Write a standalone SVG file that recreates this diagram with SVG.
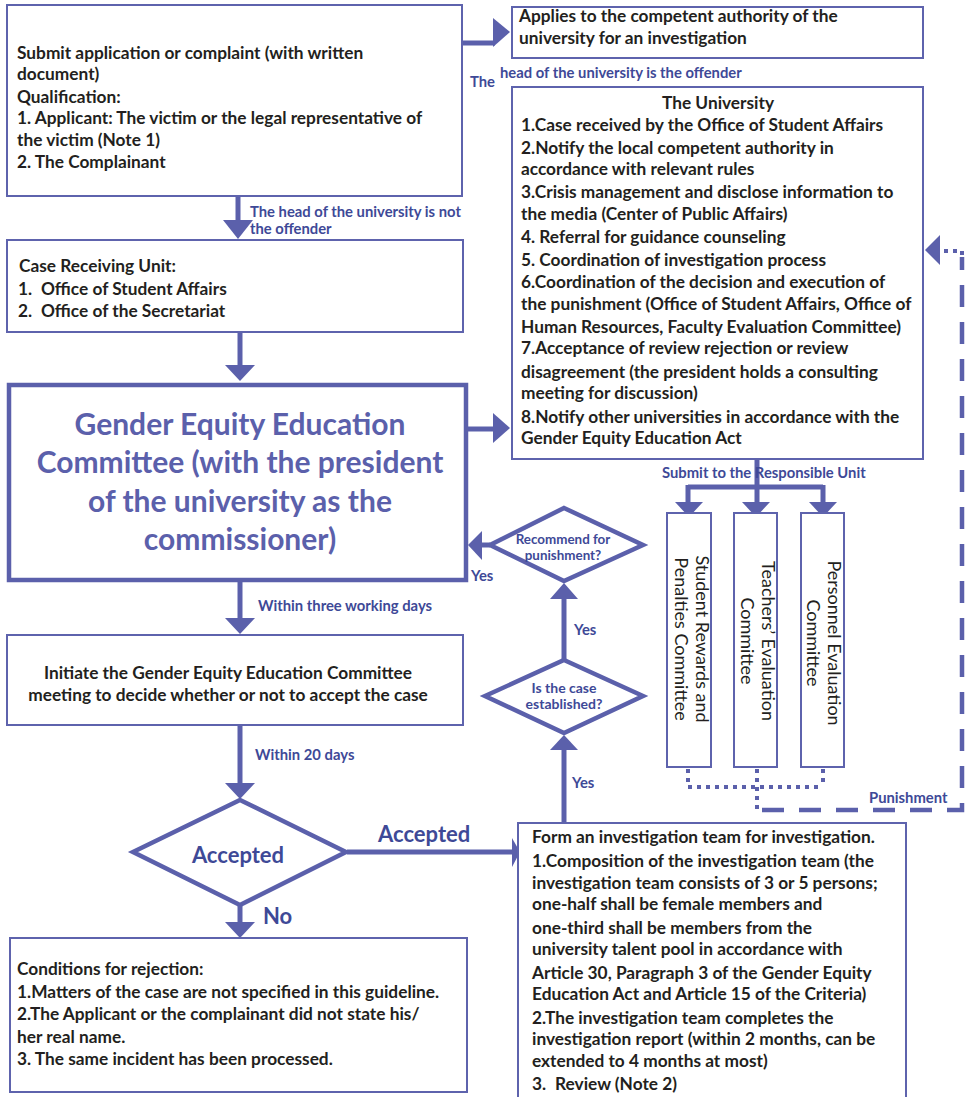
<svg xmlns="http://www.w3.org/2000/svg" width="970" height="1097" viewBox="0 0 970 1097">
<defs>
<style>
.box{fill:#fff;stroke:#5e63ad;stroke-width:2}
.thick{fill:#fff;stroke:#5b60ab;stroke-width:4.5}
.dia{fill:#fff;stroke:#5b60ab;stroke-width:4.5;stroke-linejoin:miter}
.ln{fill:none;stroke:#5b60ab;stroke-width:5}
.ah{fill:#5b60ab}
.dot{fill:none;stroke:#5b60ab;stroke-width:4;stroke-dasharray:4 5}
.dash{fill:none;stroke:#5b60ab;stroke-width:4.5;stroke-dasharray:22 15}
.t{font-family:Lato,"Liberation Sans",sans-serif;font-weight:bold;font-size:17.3px;fill:#231f20}
.lb{font-family:Lato,"Liberation Sans",sans-serif;font-weight:bold;font-size:14.8px;fill:#3e4997}
.big{font-family:Lato,"Liberation Sans",sans-serif;font-weight:bold;font-size:30px;fill:#5b60ab;text-anchor:middle}
.acc{font-family:Lato,"Liberation Sans",sans-serif;font-weight:bold;font-size:22px;fill:#3e4997}
.rot{font-family:Lato,"Liberation Sans",sans-serif;font-size:18px;fill:#231f20;text-anchor:middle}
</style>
</defs>

<g id="connectors">
  <path class="ln" d="M462 43 H495"/>
  <polygon class="ah" points="493,18 510,32 493,47"/>
  <path class="ln" d="M238 196 V222"/>
  <polygon class="ah" points="223,220 253,220 238,239"/>
  <path class="ln" d="M240 332 V367"/>
  <polygon class="ah" points="225,365 255,365 240,381"/>
  <path class="ln" d="M467 429 H495"/>
  <polygon class="ah" points="493,413 510,428 493,443"/>
  <path class="ln" d="M240 582 V620"/>
  <polygon class="ah" points="225,618 255,618 240,634"/>
  <path class="ln" d="M240 725 V785"/>
  <polygon class="ah" points="225,783 255,783 240,799"/>
  <path class="ln" d="M240 905 V924"/>
  <polygon class="ah" points="225,922 255,922 240,938"/>
  <path class="ln" d="M347 852 H514"/>
  <polygon class="ah" points="512,838 520,852 512,867"/>
  <path class="ln" d="M564 823 V748"/>
  <polygon class="ah" points="550,750 578,750 564,735"/>
  <path class="ln" d="M564 660 V597"/>
  <polygon class="ah" points="550,599 578,599 564,583"/>
  <path class="ln" d="M490 545 H480"/>
  <polygon class="ah" points="482,531 468,545 482,560"/>
  <path class="ln" d="M757 459 V487 M688 487 H823 M688 485 V504 M757 487 V504 M823 485 V504"/>
  <polygon class="ah" points="675,502 703,502 689,517"/>
  <polygon class="ah" points="742,502 770,502 756,517"/>
  <polygon class="ah" points="809,502 837,502 823,517"/>
  <path class="dot" d="M688 769 V787 H823 M823 769 V787 M757 769 V810"/>
  <path class="dash" d="M762 810 H962 V257"/>
  <path class="dot" d="M944 251 H962 V258"/>
  <polygon class="ah" points="940,235 925,250 940,265"/>
</g>

<g id="labels">
  <text class="lb" x="250" y="217">The head of the university is not</text>
  <text class="lb" x="250" y="234">the offender</text>
  <text class="lb" x="470" y="87">The</text>
  <text class="lb" x="500" y="78">head of the university is the offender</text>
  <text class="lb" x="662" y="478">Submit to the Responsible Unit</text>
  <text class="lb" x="471" y="581">Yes</text>
  <text class="lb" x="574" y="635">Yes</text>
  <text class="lb" x="572" y="788">Yes</text>
  <text class="lb" x="258" y="611">Within three working days</text>
  <text class="lb" x="255" y="760">Within 20 days</text>
  <text class="lb" x="869" y="803">Punishment</text>
  <text class="acc" x="378" y="842">Accepted</text>
  <text class="acc" x="263" y="924">No</text>
</g>

<g id="submit">
  <rect class="box" x="7" y="5" width="455" height="191"/>
  <text class="t" x="17" y="59">Submit application or complaint (with written</text>
  <text class="t" x="17" y="80">document)</text>
  <text class="t" x="17" y="103">Qualification:</text>
  <text class="t" x="17" y="124">1. Applicant: The victim or the legal representative of</text>
  <text class="t" x="17" y="146">the victim (Note 1)</text>
  <text class="t" x="17" y="168">2. The Complainant</text>
</g>

<g id="applies">
  <rect class="box" x="512" y="7" width="411" height="51"/>
  <text class="t" x="519" y="22">Applies to the competent authority of the</text>
  <text class="t" x="519" y="44">university for an investigation</text>
</g>

<g id="university">
  <rect class="box" x="512" y="87" width="411" height="372"/>
  <text class="t" x="718" y="109" text-anchor="middle">The University</text>
  <text class="t" x="521" y="131">1.Case received by the Office of Student Affairs</text>
  <text class="t" x="521" y="154">2.Notify the local competent authority in</text>
  <text class="t" x="521" y="175">accordance with relevant rules</text>
  <text class="t" x="521" y="198">3.Crisis management and disclose information to</text>
  <text class="t" x="521" y="220">the media (Center of Public Affairs)</text>
  <text class="t" x="521" y="243">4. Referral for guidance counseling</text>
  <text class="t" x="521" y="266">5. Coordination of investigation process</text>
  <text class="t" x="521" y="288">6.Coordination of the decision and execution of</text>
  <text class="t" x="521" y="310">the punishment (Office of Student Affairs, Office of</text>
  <text class="t" x="521" y="333">Human Resources, Faculty Evaluation Committee)</text>
  <text class="t" x="521" y="354">7.Acceptance of review rejection or review</text>
  <text class="t" x="521" y="378">disagreement (the president holds a consulting</text>
  <text class="t" x="521" y="399">meeting for discussion)</text>
  <text class="t" x="521" y="423">8.Notify other universities in accordance with the</text>
  <text class="t" x="521" y="444">Gender Equity Education Act</text>
</g>

<g id="receiving">
  <rect class="box" x="7" y="240" width="456" height="92"/>
  <text class="t" x="19" y="272">Case Receiving Unit:</text>
  <text class="t" x="18" y="295">1.</text>
  <text class="t" x="41" y="295">Office of Student Affairs</text>
  <text class="t" x="18" y="317">2.</text>
  <text class="t" x="41" y="317">Office of the Secretariat</text>
</g>

<g id="geec">
  <rect class="thick" x="9" y="385" width="457" height="195"/>
  <text class="big" x="240" y="435">Gender Equity Education</text>
  <text class="big" x="240" y="473">Committee (with the president</text>
  <text class="big" x="240" y="512">of the university as the</text>
  <text class="big" x="240" y="550">commissioner)</text>
</g>

<g id="initiate">
  <rect class="box" x="7" y="635" width="456" height="90"/>
  <text class="t" x="228" y="679" text-anchor="middle">Initiate the Gender Equity Education Committee</text>
  <text class="t" x="228" y="701" text-anchor="middle">meeting to decide whether or not to accept the case</text>
</g>

<g id="accepted">
  <polygon class="dia" points="240,800 346,852 240,905 133,852"/>
  <text class="acc" x="238" y="863" text-anchor="middle">Accepted</text>
</g>

<g id="rejection">
  <rect class="box" x="10" y="938" width="457" height="154"/>
  <text class="t" x="17" y="975">Conditions for rejection:</text>
  <text class="t" x="17" y="998">1.Matters of the case are not specified in this guideline.</text>
  <text class="t" x="17" y="1020">2.The Applicant or the complainant did not state his/</text>
  <text class="t" x="17" y="1043">her real name.</text>
  <text class="t" x="17" y="1065">3. The same incident has been processed.</text>
</g>

<g id="recommend">
  <polygon class="dia" points="564,508 643,545 564,581 490,545"/>
  <text class="lb" x="563" y="544" text-anchor="middle" style="font-size:13.4px">Recommend for</text>
  <text class="lb" x="563" y="560" text-anchor="middle" style="font-size:13.4px">punishment?</text>
</g>

<g id="established">
  <polygon class="dia" points="564,660 643,696 564,733 485,696"/>
  <text class="lb" x="564" y="693" text-anchor="middle" style="font-size:14px">Is the case</text>
  <text class="lb" x="564" y="709" text-anchor="middle" style="font-size:14px">established?</text>
</g>

<g id="investigation">
  <rect class="box" x="518" y="823" width="388" height="280"/>
  <text class="t" x="532" y="843">Form an investigation team for investigation.</text>
  <text class="t" x="532" y="867">1.Composition of the investigation team (the</text>
  <text class="t" x="532" y="889">investigation team consists of 3 or 5 persons;</text>
  <text class="t" x="532" y="910">one-half shall be female members and</text>
  <text class="t" x="532" y="934">one-third shall be members from the</text>
  <text class="t" x="532" y="955">university talent pool in accordance with</text>
  <text class="t" x="532" y="979">Article 30, Paragraph 3 of the Gender Equity</text>
  <text class="t" x="532" y="1000">Education Act and Article 15 of the Criteria)</text>
  <text class="t" x="532" y="1024">2.The investigation team completes the</text>
  <text class="t" x="532" y="1045">investigation report (within 2 months, can be</text>
  <text class="t" x="532" y="1067">extended to 4 months at most)</text>
  <text class="t" x="532" y="1090">3.<tspan x="555">Review (Note 2)</tspan></text>
</g>

<g id="student-committee">
  <rect class="box" x="667" y="513" width="44" height="254"/>
  <text class="rot" transform="translate(696,639) rotate(90)">Student Rewards and</text>
  <text class="rot" transform="translate(675,639) rotate(90)">Penalties Committee</text>
</g>

<g id="teachers-committee">
  <rect class="box" x="734" y="513" width="43" height="254"/>
  <text class="rot" transform="translate(762,641) rotate(90)">Teachers’ Evaluation</text>
  <text class="rot" transform="translate(741,641) rotate(90)">Committee</text>
</g>

<g id="personnel-committee">
  <rect class="box" x="801" y="513" width="43" height="254"/>
  <text class="rot" transform="translate(828,643) rotate(90)">Personnel Evaluation</text>
  <text class="rot" transform="translate(807,643) rotate(90)">Committee</text>
</g>
</svg>
